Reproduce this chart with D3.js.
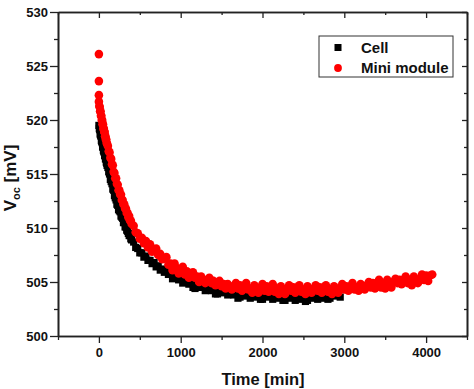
<!DOCTYPE html>
<html>
<head>
<meta charset="utf-8">
<script src="https://cdn.jsdelivr.net/npm/d3@7"></script>
<style>
  body { margin: 0; background: #fff; }
  text { font-family: "Liberation Sans", Arial, sans-serif; font-weight: bold; fill: #111; }
</style>
</head>
<body>
<svg id="chart"></svg>
<script>
// time stamps [min], shared by both series (cell stops earlier)
var timeMin = [
  0,5,10,15,20,25,30,35,40,45,
  50,55,60,65,70,75,80,85,90,95,
  100,110,120,130,140,150,160,170,180,190,
  200,210,220,230,240,250,260,270,280,290,
  300,310,320,330,340,350,360,370,380,390,
  400,425,450,475,500,525,550,575,600,625,
  650,675,700,725,750,775,800,825,850,875,
  900,925,950,975,1000,1025,1050,1075,1100,1125,
  1150,1175,1200,1225,1250,1275,1300,1325,1350,1375,
  1400,1425,1450,1475,1500,1525,1550,1575,1600,1625,
  1650,1675,1700,1725,1750,1775,1800,1825,1850,1875,
  1900,1925,1950,1975,2000,2025,2050,2075,2100,2125,
  2150,2175,2200,2225,2250,2275,2300,2325,2350,2375,
  2400,2425,2450,2475,2500,2525,2550,2575,2600,2625,
  2650,2675,2700,2725,2750,2775,2800,2825,2850,2875,
  2900,2925,2950,2975,3000,3025,3050,3075,3100,3125,
  3150,3175,3200,3225,3250,3275,3300,3325,3350,3375,
  3400,3425,3450,3475,3500,3525,3550,3575,3600,3625,
  3650,3675,3700,3725,3750,3775,3800,3825,3850,3875,
  3900,3925,3950,3975,4000,4025,4050,4075
];

// Voc of the cell [mV]
var cellVoc = [
  519.5,519.2,519.1,518.7,518.6,518.5,518.1,518.0,517.9,517.5,
  517.5,517.2,517.1,517.0,516.7,516.7,516.4,516.4,516.1,516.0,
  515.8,515.6,515.2,515.0,514.5,514.3,514.1,513.6,513.5,513.0,
  512.8,512.6,512.2,512.1,511.7,511.6,511.5,511.1,511.0,510.9,
  510.5,510.5,510.1,510.1,509.8,509.7,509.5,509.3,509.3,509.0,
  508.9,508.7,508.2,508.1,507.7,507.7,507.3,507.4,507.0,507.0,
  506.7,506.8,506.4,506.5,506.1,506.2,505.9,506.0,505.7,505.8,
  505.3,505.6,505.8,505.2,505.5,504.9,505.3,505.5,504.8,504.9,
  504.5,504.4,504.8,505.0,504.5,504.8,504.2,504.6,504.8,504.2,
  504.3,503.9,503.9,504.3,504.5,504.0,504.3,503.8,504.2,504.4,
  503.8,503.9,503.5,503.6,504.0,504.2,503.7,504.1,503.5,504.0,
  504.2,503.6,503.8,503.4,503.4,503.8,504.1,503.6,504.0,503.4,
  503.8,504.1,503.5,503.7,503.3,503.3,503.7,504.0,503.5,503.9,
  503.3,503.8,504.0,503.4,503.6,503.2,503.3,503.7,504.0,503.5,
  503.9,503.4,503.9,504.1,503.5,503.8,503.4,503.5,503.9,504.2,
  503.7,504.1,503.6
];

// Voc of the mini module [mV]
var miniVoc = [
  521.7,521.3,521.2,520.8,520.8,520.4,520.4,520.0,520.0,519.6,
  519.6,519.2,519.2,518.9,518.9,518.5,518.5,518.2,518.2,517.9,
  517.8,517.6,517.1,517.0,516.5,516.4,515.9,515.8,515.2,515.1,
  514.6,514.6,514.1,514.0,513.5,513.5,513.1,513.1,512.6,512.6,
  512.2,512.2,511.8,511.8,511.4,511.4,511.0,511.1,510.7,510.7,
  510.4,510.2,509.6,509.5,509.0,509.1,508.6,508.8,508.2,508.5,
  507.8,508.0,508.1,507.5,507.6,507.1,507.2,507.3,506.6,506.7,
  506.1,506.7,506.3,505.8,506.2,506.4,505.7,506.0,505.4,505.8,
  505.9,505.4,505.5,505.0,505.5,505.2,504.9,505.2,505.4,504.9,
  505.1,504.7,505.0,505.1,504.6,504.8,504.4,504.8,504.6,504.3,
  504.6,504.9,504.4,504.7,504.2,504.6,504.9,504.3,504.4,504.0,
  504.7,504.4,504.0,504.5,504.8,504.2,504.6,504.1,504.5,504.8,
  504.1,504.4,503.9,504.6,504.3,503.9,504.4,504.7,504.2,504.5,
  504.0,504.5,504.7,504.1,504.3,503.9,504.6,504.3,504.0,504.4,
  504.7,504.2,504.5,504.0,504.5,504.7,504.1,504.3,503.9,504.6,
  504.4,504.0,504.4,504.8,504.3,504.6,504.2,504.6,504.9,504.3,
  504.5,504.2,504.8,504.6,504.3,504.7,505.0,504.5,504.9,504.4,
  504.9,505.2,504.5,504.8,504.4,505.2,504.9,504.5,505.0,505.3,
  504.9,505.2,504.8,505.2,505.5,504.9,505.2,504.7,505.5,505.2,
  504.9,505.3,505.7,505.2,505.6,505.1,505.6,505.7
];

// first readings of the mini module, right at t = 0
var miniStartTime = [0, 0, 0];
var miniStartVoc = [526.1, 523.6, 522.3];

var xMajor = [0, 1000, 2000, 3000, 4000];
var xMinor = [-500, 500, 1500, 2500, 3500, 4500];
var yMajor = [500, 505, 510, 515, 520, 525, 530];
var yMinor = [502.5, 507.5, 512.5, 517.5, 522.5, 527.5];

var legendNames = ["Cell", "Mini module"];

var width = 474, height = 389;
var plotL = 58, plotR = 467, plotT = 12, plotB = 336;

var svg = d3.select("#chart").attr("width", width).attr("height", height);
svg.append("rect").attr("width", width).attr("height", height).attr("fill", "#fff");

var x = d3.scaleLinear().domain([-500, 4500]).range([plotL, plotR]);
var y = d3.scaleLinear().domain([500, 530]).range([plotB, plotT]);

var cellPts = cellVoc.map(function(v, i) { return [timeMin[i], v]; });
var miniPts = miniVoc.map(function(v, i) { return [timeMin[i], v]; });
var startPts = miniStartVoc.map(function(v, i) { return [miniStartTime[i], v]; });

// cell: black squares
var sq = 7.2;
svg.append("g").selectAll("rect")
  .data(cellPts)
  .enter()
  .append("rect")
  .attr("x", function(d) { return x(d[0]) - sq / 2; })
  .attr("y", function(d) { return y(d[1]) - sq / 2; })
  .attr("width", sq)
  .attr("height", sq)
  .attr("fill", "#000");

// mini module: red dots
var dotR = 4.3;
svg.append("g").selectAll("circle")
  .data(miniPts.concat(startPts))
  .enter()
  .append("circle")
  .attr("cx", function(d) { return x(d[0]); })
  .attr("cy", function(d) { return y(d[1]); })
  .attr("r", dotR)
  .attr("fill", "#ff0000");

// axes, with frame
var styleAxis = function(g, showText)
{
  g.select(".domain").attr("stroke", "#222").attr("stroke-width", 1.6);
  g.selectAll(".tick line").attr("stroke", "#222").attr("stroke-width", 1.3);
  g.selectAll("text").attr("font-size", 13).attr("fill", "#111")
    .style("font-family", "'Liberation Sans', Arial, sans-serif").style("font-weight", "bold");
  if (!showText) g.selectAll("text").remove();
};

svg.append("g").attr("transform", "translate(0," + plotB + ")")
  .call(d3.axisBottom(x).tickValues(xMajor).tickSize(7).tickSizeOuter(0).tickPadding(4.5).tickFormat(d3.format("d")))
  .call(styleAxis, true);
svg.append("g").attr("transform", "translate(0," + plotB + ")")
  .call(d3.axisBottom(x).tickValues(xMinor).tickSize(4).tickSizeOuter(0).tickFormat(""))
  .call(styleAxis, false);

svg.append("g").attr("transform", "translate(0," + plotT + ")")
  .call(d3.axisBottom(x).tickValues(xMajor).tickSize(6).tickSizeOuter(0).tickFormat(""))
  .call(styleAxis, false);
svg.append("g").attr("transform", "translate(0," + plotT + ")")
  .call(d3.axisBottom(x).tickValues(xMinor).tickSize(3).tickSizeOuter(0).tickFormat(""))
  .call(styleAxis, false);

svg.append("g").attr("transform", "translate(" + plotL + ",0)")
  .call(d3.axisLeft(y).tickValues(yMajor).tickSize(8).tickSizeOuter(0).tickPadding(2).tickFormat(d3.format("d")))
  .call(styleAxis, true);
svg.append("g").attr("transform", "translate(" + plotL + ",0)")
  .call(d3.axisLeft(y).tickValues(yMinor).tickSize(4).tickSizeOuter(0).tickFormat(""))
  .call(styleAxis, false);

svg.append("g").attr("transform", "translate(" + plotR + ",0)")
  .call(d3.axisLeft(y).tickValues(yMajor).tickSize(5).tickSizeOuter(0).tickFormat(""))
  .call(styleAxis, false);
svg.append("g").attr("transform", "translate(" + plotR + ",0)")
  .call(d3.axisLeft(y).tickValues(yMinor).tickSize(3).tickSizeOuter(0).tickFormat(""))
  .call(styleAxis, false);

// axis titles
svg.append("text")
  .attr("x", 263).attr("y", 385)
  .attr("text-anchor", "middle")
  .attr("font-size", 16.5)
  .text("Time [min]");

var yt = svg.append("text")
  .attr("transform", "translate(15.5,178) rotate(-90)")
  .attr("text-anchor", "middle")
  .attr("font-size", 17);
yt.append("tspan").text("V");
yt.append("tspan").attr("font-size", 11).attr("dy", 4).text("oc");
yt.append("tspan").attr("dy", -4).text(" [mV]");

// legend
var lg = svg.append("g");
lg.append("rect")
  .attr("x", 319).attr("y", 36).attr("width", 134).attr("height", 41)
  .attr("fill", "#fff").attr("stroke", "#333").attr("stroke-width", 1);
lg.append("rect")
  .attr("x", 338 - 3.5).attr("y", 47.5 - 3.5).attr("width", 7).attr("height", 7)
  .attr("fill", "#000");
lg.append("circle")
  .attr("cx", 338).attr("cy", 68).attr("r", 3.9)
  .attr("fill", "#ff0000");
lg.selectAll("text.leg")
  .data(legendNames)
  .enter()
  .append("text")
  .attr("class", "leg")
  .attr("x", 361)
  .attr("y", function(d, i) { return 52.5 + i * 20.3; })
  .attr("font-size", 15)
  .text(function(d) { return d; });
</script>
</body>
</html>
